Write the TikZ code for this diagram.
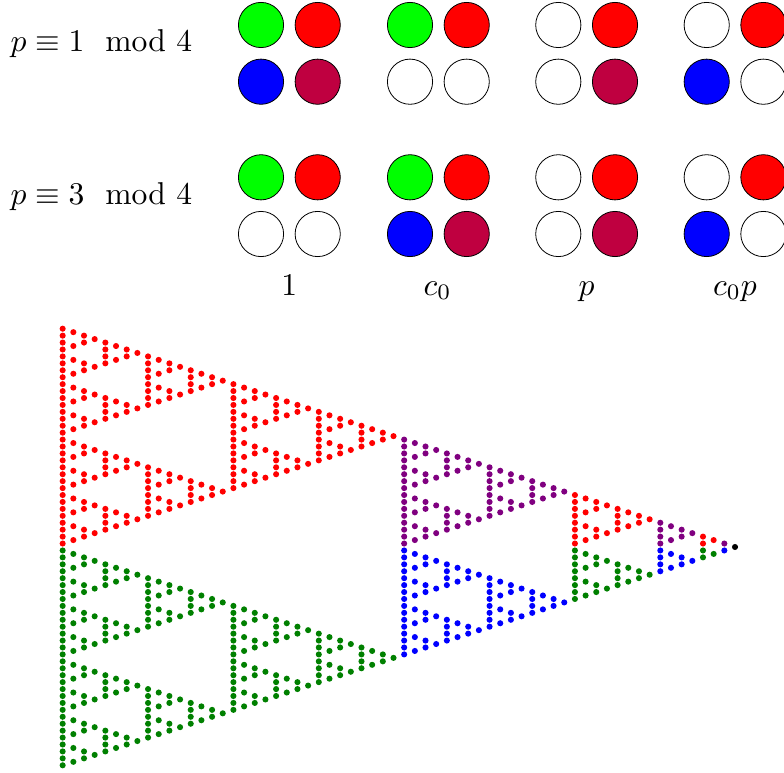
\documentclass[tikz,border=0pt]{standalone}
\usepackage{amsmath}
\definecolor{dotgreen}{rgb}{0,0.5,0}
\definecolor{dotviolet}{rgb}{0.5,0,0.5}
\definecolor{lime}{rgb}{0,1,0}
\definecolor{wine}{rgb}{0.75,0,0.25}
\tikzset{
  disc/.style={draw=black,line width=0.8pt,fill=#1},
  disc/.default=white,
  lab/.style={inner sep=0pt,outer sep=0pt,scale=3.16,text=black}
}
\newcommand{\sier}[4]{%
  \ifnum\numexpr#3\relax=1
    \fill[#4] ({62.67+10.672*\the\numexpr#1\relax},{328.7+6.93*\the\numexpr#2\relax+3.465*\the\numexpr#1\relax}) circle[radius=3.05pt];%
  \else
    \sier{#1}{#2}{(#3)/2}{#4}%
    \sier{#1}{(#2)+(#3)/2}{(#3)/2}{#4}%
    \sier{(#1)+(#3)/2}{#2}{(#3)/2}{#4}%
  \fi
}
\newcommand{\quadro}[6]{%
  \draw[disc=#3] (#1,#2) circle[radius=22.6pt];
  \draw[disc=#4] (#1+56.7,#2) circle[radius=22.6pt];
  \draw[disc=#5] (#1,#2+56.7) circle[radius=22.6pt];
  \draw[disc=#6] (#1+56.7,#2+56.7) circle[radius=22.6pt];
}
\begin{document}
\begin{tikzpicture}[x=1pt,y=-1pt]
\useasboundingbox (0,0) rectangle (784,773);
\quadro{261}{25}{lime}{red}{blue}{wine}
\quadro{410}{25}{lime}{red}{white}{white}
\quadro{558.3}{25}{white}{red}{white}{wine}
\quadro{706.7}{25}{white}{red}{blue}{white}
\quadro{261}{177.3}{lime}{red}{white}{white}
\quadro{410}{177.3}{lime}{red}{blue}{wine}
\quadro{558.3}{177.3}{white}{red}{white}{wine}
\quadro{706.7}{177.3}{white}{red}{blue}{white}
\node[lab,anchor=base west] (rowa) at (10.5,52) {$p\equiv 1 \mod 4$};
\node[lab,anchor=base west] (rowb) at (10.5,204) {$p\equiv 3 \mod 4$};
\node[lab,anchor=base] (cola) at (289.3,295) {$1$};
\node[lab,anchor=base] (colb) at (437.5,295) {$c_0$};
\node[lab,anchor=base] (colc) at (586.5,295) {$p$};
\node[lab,anchor=base] (cold) at (735,295) {$c_0p$};
\sier{0}{0}{32}{red}
\sier{0}{32}{32}{dotgreen}
\sier{32}{0}{16}{dotviolet}
\sier{32}{16}{16}{blue}
\sier{48}{0}{8}{red}
\sier{48}{8}{8}{dotgreen}
\sier{56}{0}{4}{dotviolet}
\sier{56}{4}{4}{blue}
\sier{60}{0}{2}{red}
\sier{60}{2}{2}{dotgreen}
\sier{62}{0}{1}{dotviolet}
\sier{62}{1}{1}{blue}
\sier{63}{0}{1}{black}
\end{tikzpicture}
\end{document}
